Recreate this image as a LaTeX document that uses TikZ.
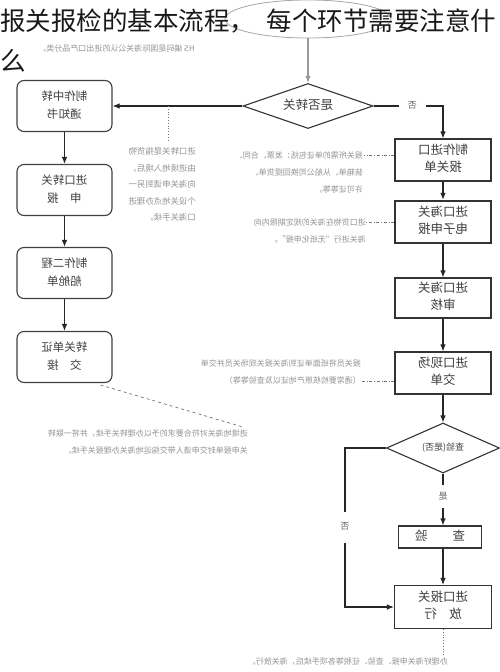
\documentclass[tikz,border=0pt]{standalone}
\usepackage{fontspec}
\setmainfont{Noto Sans CJK SC}
\usepackage{graphicx}
\usetikzlibrary{shapes.geometric,arrows.meta,positioning}

% mirrored block of lines
\newcommand\mir[2][c]{\reflectbox{\begin{tabular}{@{}#1@{}}#2\end{tabular}}}

\begin{document}
\begin{tikzpicture}[x=1pt,y=-1pt,
    lbox/.style={draw=black!75,line width=1.1pt,rounded corners=7pt,
      minimum width=95pt,minimum height=51pt,inner sep=0pt,
      text=black!75,font=\fontsize{11.5}{18}\selectfont},
    rbox/.style={draw=black!80,line width=1.1pt,minimum width=96pt,
      minimum height=42pt,inner sep=0pt,text=black!75,
      font=\fontsize{12.5}{17}\selectfont},
    ask/.style={diamond,draw=black!80,line width=1.1pt,aspect=2.6,
      inner sep=0pt,text=black!75},
    note/.style={inner sep=0pt,text=black!42,font=\fontsize{8}{17}\selectfont},
    lab/.style={fill=white,inner sep=0pt,text=black!60,
      font=\fontsize{9}{11}\selectfont},
    arr/.style={-{Latex[length=7pt,width=5.5pt]},line width=1.1pt,draw=black!85},
    dd/.style={dash dot,draw=black!55,line width=0.7pt}]

  \path[fill=white,use as bounding box] (0,0) rectangle (500,672);

  % top
  \node[ellipse,draw=black!35,line width=0.8pt,minimum width=166pt,
        minimum height=38pt,inner sep=0pt] (hs) at (308,19) {};
  \node[note,anchor=east] (hsn) at (195,48)
        {\mir[l]{HS 编码是国际海关公认的进出口产品分类。}};
  \node[ask,minimum width=130pt,minimum height=45pt,
        font=\fontsize{12.5}{14}\selectfont] (zg) at (308,106) {\mir{是否转关}};
  \draw[arr,draw=black!40] (hs) -- (zg);

  % transit column
  \node[lbox] (zz) at (64.5,106) {\mir{制作中转\\通知书}};
  \node[lbox] (zb) at (64.5,190) {\mir{进口转关\\申　报}};
  \node[lbox] (cd) at (64.5,273) {\mir{制作二程\\船舱单}};
  \node[lbox] (jj) at (64.5,357) {\mir{转关单证\\交　接}};
  \draw[arr] (zg) -- (zz);
  \draw[arr] (zz) -- (zb);
  \draw[arr] (zb) -- (cd);
  \draw[arr] (cd) -- (jj);

  \coordinate (zd) at (168,106);
  \draw[dotted,draw=black!55,line width=0.8pt] (zd) -- ++(0,34);
  \node[note,anchor=north east,font=\fontsize{8.4}{16.5}\selectfont] (zgn) at (196,143)
        {\mir[l]{进口转关是指货物\\由进境地入境后，\\向海关申请到另一\\个设关地点办理进\\口海关手续。}};

  \coordinate (jje) at (243,427);
  \draw[dashed,draw=black!55,line width=0.7pt] ([xshift=-12pt,yshift=-2pt]jj.south east) -- (jje);
  \node[note,anchor=north east] (jjn) at (248,424)
        {\mir[l]{进境地海关对符合要求的予以办理转关手续，并将一联转\\关申报单封交申请人带交指运地海关办理报关手续。}};

  % import column
  \node[rbox] (bgd) at (443,160) {\mir{制作进口\\报关单}};
  \node[rbox,line width=2.2pt] (dz) at (443,222) {\mir{进口海关\\电子申报}};
  \node[rbox,minimum height=40pt] (sh) at (443,298) {\mir{进口海关\\审核}};
  \node[rbox] (jd) at (443,373) {\mir{进口现场\\交单}};
  \node[ask,minimum width=113pt,minimum height=50pt,
        font=\fontsize{9}{11}\selectfont] (cy) at (443,448) {\mir{查验(是否)}};
  \node[rbox,minimum width=83pt,minimum height=22pt] (yan) at (440,537) {\mir{查　　验}};
  \node[rbox,minimum width=97pt,minimum height=43pt] (fx) at (443,607) {\mir{进口报关\\放　行}};

  \draw[arr] (zg.east) -| node[lab,pos=0.28,inner xsep=9pt]{\mir{否}} (bgd.north);
  \draw[arr] (bgd) -- (dz);
  \draw[arr] (dz) -- (sh);
  \draw[arr] (sh) -- (jd);
  \draw[arr] (jd) -- (cy);
  \draw[arr] (cy) -- node[lab,inner ysep=6pt,pos=0.45]{\mir{是}} (cy.south |- yan.north);
  \draw[arr] (yan.south -| fx.north) -- (fx);
  \draw[arr] (cy.west) -- ++(-41,0) |- node[lab,pos=0.25,inner ysep=10pt]{\mir{否}} (fx.west);

  \node[note,anchor=north east] (bgdn) at (363,146)
        {\mir[l]{报关所需的单证包括：发票、合同、\\装箱单、从船公司换回提货单、\\许可证等等。}};
  \draw[dd] ([yshift=5pt]bgd.west) -- ++(-30,0);
  \node[note,anchor=north east] (dzn) at (366,213)
        {\mir[l]{进口货物在海关的规定期限内向\\海关进行“无纸化申报”。}};
  \draw[dd] (dz.west) -- ++(-28,0);
  \node[note,anchor=north east] (jdn) at (361,354)
        {\mir[l]{报关员将纸面单证到海关报关现场关员并交单\\（通常要检核原产地证以及查验等等）}};
  \draw[dd] ([yshift=-8pt]jd.west) -- ++(-33,0);

  \draw[dotted,draw=black!55,line width=0.8pt] (fx.south) -- ++(0,26) coordinate (fxe);
  \node[note,anchor=north east] (fxn) at (448,652)
        {\mir[l]{办理好海关申报、查验、征税等各项手续后，海关放行。}};

  % caption on top
  \node[anchor=west,inner sep=0pt,text=black!90,font=\fontsize{25.5}{30}\selectfont] (tt)
        at (0,21) {报关报检的基本流程，\hspace{0.45em}每个环节需要注意什};
  \node[anchor=west,inner sep=0pt,text=black!90,font=\fontsize{25.5}{30}\selectfont] (tt2)
        at (0,61) {么};
\end{tikzpicture}
\end{document}
